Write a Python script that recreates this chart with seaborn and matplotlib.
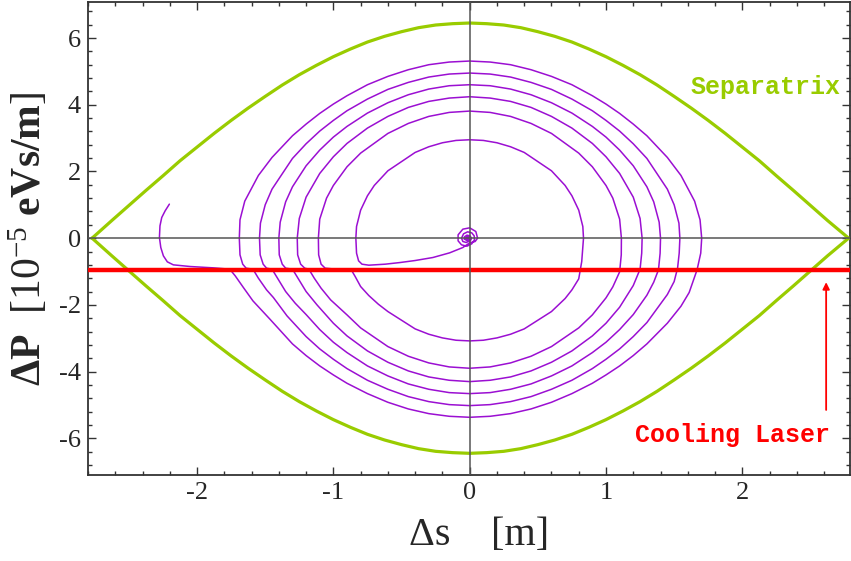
import matplotlib
matplotlib.use("Agg")
import matplotlib.pyplot as plt
import numpy as np
import pandas as pd
import seaborn as sns
from matplotlib.ticker import MultipleLocator, FuncFormatter

# ---- separatrix (upper branch; lower branch is its mirror) ----
sep_s = [-2.77, -2.625, -2.5, -2.375, -2.25, -2.125, -2.0, -1.875, -1.75, -1.625, -1.5, -1.375,
         -1.25, -1.125, -1.0, -0.875, -0.75, -0.625, -0.5, -0.375, -0.25, -0.125, 0.0,
         0.125, 0.25, 0.375, 0.5, 0.625, 0.75, 0.875, 1.0, 1.125, 1.25, 1.375,
         1.5, 1.625, 1.75, 1.875, 2.0, 2.125, 2.25, 2.375, 2.5, 2.625, 2.78]
sep_p = [0.0, 0.53, 0.98, 1.43, 1.87, 2.32, 2.73, 3.14, 3.53, 3.90, 4.25, 4.59,
         4.90, 5.18, 5.44, 5.67, 5.88, 6.05, 6.19, 6.31, 6.39, 6.43, 6.45,
         6.43, 6.39, 6.31, 6.19, 6.05, 5.88, 5.67, 5.44, 5.18, 4.90, 4.59,
         4.25, 3.90, 3.53, 3.14, 2.73, 2.32, 1.87, 1.43, 0.98, 0.53, 0.0]

# ---- cooled particle trajectory, one revolution per list ----
start_s = [-2.203, -2.234, -2.259, -2.272, -2.276, -2.266, -2.247, -2.218, -2.174, -2.05, -1.88, -1.76]
start_p = [1.02, 0.82, 0.62, 0.37, 0.02, -0.28, -0.53, -0.71, -0.80, -0.85, -0.89, -0.93]

rev1_s = [-1.72, -1.66, -1.59, -1.465, -1.30, -1.20, -1.10, -1.00, -0.90, -0.75, -0.60, -0.45, -0.30, -0.15, 0.0,
          0.15, 0.30, 0.45, 0.60, 0.75, 0.90, 1.00, 1.10, 1.20, 1.30, 1.45, 1.55, 1.61, 1.668, 1.695,
          1.702, 1.69, 1.65, 1.55, 1.45, 1.30, 1.20, 1.10, 1.00, 0.90, 0.75, 0.60, 0.45, 0.30, 0.15, 0.0,
          -0.15, -0.30, -0.45, -0.60, -0.75, -0.90, -1.00, -1.10, -1.20, -1.30, -1.45, -1.55, -1.65, -1.685, -1.69,
          -1.685, -1.665, -1.64, -1.59]
rev1_p = [-1.13, -1.48, -1.88, -2.43, -3.17, -3.52, -3.83, -4.10, -4.35, -4.66, -4.92, -5.12, -5.26, -5.34, -5.37,
          -5.34, -5.26, -5.12, -4.92, -4.66, -4.35, -4.10, -3.83, -3.52, -3.17, -2.55, -2.04, -1.63, -0.95, -0.45,
          0.0, 0.55, 1.11, 1.88, 2.42, 3.07, 3.42, 3.74, 4.02, 4.27, 4.60, 4.85, 5.05, 5.20, 5.28, 5.31,
          5.28, 5.20, 5.05, 4.85, 4.60, 4.27, 4.02, 3.74, 3.42, 3.07, 2.42, 1.88, 1.11, 0.55, 0.0,
          -0.50, -0.78, -0.90, -0.93]

rev2_s = [-1.55, -1.49, -1.44, -1.34, -1.20, -1.10, -1.00, -0.90, -0.75, -0.60, -0.45, -0.30, -0.15, 0.0,
          0.15, 0.30, 0.45, 0.60, 0.75, 0.90, 1.00, 1.10, 1.20, 1.30, 1.45, 1.50, 1.525, 1.537,
          1.542, 1.535, 1.50, 1.45, 1.30, 1.20, 1.10, 1.00, 0.90, 0.75, 0.60, 0.45, 0.30, 0.15, 0.0,
          -0.15, -0.30, -0.45, -0.60, -0.75, -0.90, -1.00, -1.10, -1.20, -1.30, -1.45, -1.50, -1.535, -1.542,
          -1.537, -1.515, -1.49, -1.45]
rev2_p = [-1.20, -1.55, -1.78, -2.33, -2.95, -3.32, -3.63, -3.91, -4.26, -4.53, -4.75, -4.90, -4.99, -5.02,
          -4.99, -4.90, -4.75, -4.53, -4.26, -3.91, -3.63, -3.32, -2.95, -2.53, -1.69, -1.30, -0.90, -0.45,
          0.0, 0.45, 1.00, 1.47, 2.39, 2.83, 3.21, 3.53, 3.82, 4.17, 4.46, 4.67, 4.83, 4.92, 4.95,
          4.92, 4.83, 4.67, 4.46, 4.17, 3.82, 3.53, 3.21, 2.83, 2.39, 1.47, 1.00, 0.45, 0.0,
          -0.50, -0.78, -0.90, -0.93]

rev3_s = [-1.41, -1.35, -1.28, -1.20, -1.10, -1.00, -0.90, -0.75, -0.60, -0.45, -0.30, -0.15, 0.0,
          0.15, 0.30, 0.45, 0.60, 0.75, 0.90, 1.00, 1.10, 1.20, 1.30, 1.35, 1.385, 1.397,
          1.40, 1.39, 1.35, 1.30, 1.20, 1.10, 1.00, 0.90, 0.75, 0.60, 0.45, 0.30, 0.15, 0.0,
          -0.15, -0.30, -0.45, -0.60, -0.75, -0.90, -1.00, -1.10, -1.20, -1.30, -1.35, -1.39, -1.40,
          -1.397, -1.375, -1.35, -1.30]
rev3_p = [-1.20, -1.60, -1.95, -2.29, -2.74, -3.12, -3.43, -3.83, -4.13, -4.37, -4.53, -4.63, -4.66,
          -4.63, -4.53, -4.37, -4.13, -3.83, -3.43, -3.12, -2.74, -2.29, -1.71, -1.32, -0.95, -0.45,
          0.0, 0.48, 1.09, 1.54, 2.17, 2.64, 3.03, 3.35, 3.75, 4.06, 4.30, 4.47, 4.57, 4.60,
          4.57, 4.47, 4.30, 4.06, 3.75, 3.35, 3.03, 2.64, 2.17, 1.54, 1.09, 0.48, 0.0,
          -0.50, -0.78, -0.90, -0.93]

rev4_s = [-1.26, -1.20, -1.12, -1.00, -0.90, -0.75, -0.60, -0.45, -0.30, -0.15, 0.0,
          0.15, 0.30, 0.45, 0.60, 0.75, 0.90, 1.00, 1.10, 1.20, 1.25, 1.262,
          1.265, 1.25, 1.20, 1.10, 1.00, 0.90, 0.75, 0.60, 0.45, 0.30, 0.15, 0.0,
          -0.15, -0.30, -0.45, -0.60, -0.75, -0.90, -1.00, -1.10, -1.20, -1.25, -1.265,
          -1.262, -1.24, -1.21, -1.18]
rev4_p = [-1.20, -1.60, -2.00, -2.55, -2.93, -3.38, -3.72, -3.98, -4.16, -4.26, -4.30,
          -4.26, -4.16, -3.98, -3.72, -3.38, -2.93, -2.55, -2.07, -1.42, -0.93, -0.45,
          0.0, 0.59, 1.23, 1.94, 2.44, 2.84, 3.30, 3.65, 3.92, 4.10, 4.20, 4.24,
          4.20, 4.10, 3.92, 3.65, 3.30, 2.84, 2.44, 1.94, 1.23, 0.59, 0.0,
          -0.50, -0.78, -0.90, -0.93]

rev5_s = [-1.14, -1.09, -1.02, -0.90, -0.80, -0.60, -0.45, -0.30, -0.15, 0.0,
          0.15, 0.30, 0.45, 0.60, 0.80, 0.90, 1.00, 1.05, 1.10, 1.112,
          1.113, 1.10, 1.05, 1.00, 0.90, 0.80, 0.60, 0.45, 0.30, 0.15, 0.0,
          -0.15, -0.30, -0.45, -0.60, -0.80, -0.90, -1.00, -1.05, -1.10, -1.11,
          -1.108, -1.09, -1.06, -0.98, -0.87]
rev5_p = [-1.20, -1.50, -1.85, -2.30, -2.69, -3.25, -3.54, -3.74, -3.86, -3.90,
          -3.86, -3.74, -3.54, -3.25, -2.69, -2.30, -1.79, -1.46, -1.01, -0.50,
          0.0, 0.57, 1.20, 1.58, 2.14, 2.55, 3.14, 3.44, 3.65, 3.77, 3.81,
          3.77, 3.65, 3.44, 3.14, 2.55, 2.14, 1.58, 1.20, 0.57, 0.0,
          -0.50, -0.78, -0.90, -0.93, -0.94]

rev6_s = [-0.84, -0.80, -0.74, -0.67, -0.60, -0.40, -0.30, -0.20, -0.10, 0.0, 0.10, 0.20, 0.30, 0.40,
          0.60, 0.70, 0.75, 0.80, 0.822,
          0.835, 0.83, 0.80, 0.75, 0.70, 0.60, 0.40, 0.30, 0.20, 0.10, 0.0, -0.10, -0.20, -0.30, -0.40,
          -0.60, -0.70, -0.75, -0.80, -0.83, -0.835]
rev6_p = [-1.15, -1.45, -1.72, -1.98, -2.20, -2.72, -2.88, -2.99, -3.06, -3.08, -3.06, -2.99, -2.88, -2.72,
          -2.20, -1.81, -1.55, -1.22, -0.70,
          0.0, 0.35, 0.84, 1.27, 1.58, 2.02, 2.57, 2.74, 2.86, 2.93, 2.95, 2.93, 2.86, 2.74, 2.57,
          2.02, 1.58, 1.27, 0.84, 0.35, 0.0]

final_s = [-0.83, -0.815, -0.79, -0.74, -0.62, -0.51, -0.40, -0.27, -0.147, -0.05, 0.0,
           0.04, 0.058, 0.045, 0.0, -0.05, -0.085, -0.085, -0.06, -0.02, 0.015, 0.035, 0.033, 0.015,
           -0.015, -0.045, -0.06, -0.05, -0.025, 0.0, 0.01, 0.0, -0.02, -0.038, -0.04, -0.025, -0.015]
final_p = [-0.45, -0.68, -0.78, -0.81, -0.78, -0.73, -0.67, -0.58, -0.44, -0.28, -0.14,
           -0.10, 0.0, 0.20, 0.31, 0.27, 0.10, -0.08, -0.20, -0.24, -0.17, -0.05, 0.07, 0.16,
           0.19, 0.13, 0.0, -0.10, -0.13, -0.08, 0.0, 0.07, 0.09, 0.04, -0.03, -0.05, 0.0]

laser_p = -0.95
x_ticks = [-2, -1, 0, 1, 2]
y_ticks = [-6, -4, -2, 0, 2, 4, 6]

PURPLE = "#9b0fd2"
GREEN = "#99cc00"
RED = "#ff0000"
AXIS_GREY = "#555555"

sns.set_style("ticks")
plt.rcParams["font.family"] = ["Liberation Serif", "DejaVu Serif"]
plt.rcParams["mathtext.fontset"] = "custom"
plt.rcParams["mathtext.rm"] = "Liberation Serif"
plt.rcParams["mathtext.it"] = "Liberation Serif:italic"
plt.rcParams["mathtext.bf"] = "Liberation Serif:bold"
plt.rcParams["axes.unicode_minus"] = False

fig = plt.figure(figsize=(8.51, 5.61), dpi=100)
ax = fig.add_axes([88 / 851, 1 - 475 / 561, (850 - 88) / 851, (475 - 2) / 561])

traj = pd.DataFrame({
    "s": start_s + rev1_s + rev2_s + rev3_s + rev4_s + rev5_s + rev6_s + final_s,
    "p": start_p + rev1_p + rev2_p + rev3_p + rev4_p + rev5_p + rev6_p + final_p,
})
sep = pd.DataFrame({"s": sep_s, "up": sep_p, "low": [-v for v in sep_p]})

sns.lineplot(data=sep, x="s", y="up", sort=False, estimator=None, color=GREEN, lw=2.3, ax=ax, zorder=3)
sns.lineplot(data=sep, x="s", y="low", sort=False, estimator=None, color=GREEN, lw=2.3, ax=ax, zorder=3)
sns.lineplot(data=traj, x="s", y="p", sort=False, estimator=None, color=PURPLE, lw=1.1, ax=ax, zorder=4)
ax.plot([traj["s"].iloc[-1]], [traj["p"].iloc[-1]], "o", color=PURPLE, ms=4, zorder=4)

ax.axhline(laser_p, color=RED, lw=3.2, zorder=5)
ax.axhline(0, color=AXIS_GREY, lw=1.1, zorder=6)
ax.axvline(0, color=AXIS_GREY, lw=1.1, zorder=6)

ax.annotate("", xy=(2.615, -1.32), xytext=(2.615, -5.15),
            arrowprops=dict(arrowstyle="-|>", color=RED, lw=1.3, mutation_scale=10, shrinkA=0, shrinkB=0),
            zorder=7)
ax.text(1.93, -5.89, "Cooling Laser", color=RED, family="Liberation Mono", weight="bold",
        fontsize=18, ha="center", va="center")
ax.text(2.17, 4.53, "Separatrix", color=GREEN, family="Liberation Mono", weight="bold",
        fontsize=18, ha="center", va="center")

ax.set_xlim(-2.8, 2.79)
ax.set_ylim(-7.1, 7.08)
ax.set_xticks(x_ticks)
ax.set_yticks(y_ticks)
ax.xaxis.set_minor_locator(MultipleLocator(0.2))
ax.yaxis.set_minor_locator(MultipleLocator(0.4))
fmt = FuncFormatter(lambda v, _: f"{v:g}")
ax.xaxis.set_major_formatter(fmt)
ax.yaxis.set_major_formatter(fmt)
ax.tick_params(which="both", direction="in", top=True, right=True, color="#333333", width=1.0)
ax.tick_params(which="major", length=6, labelsize=19, pad=5)
ax.tick_params(which="minor", length=3)
for sp in ax.spines.values():
    sp.set_color("#333333")
    sp.set_linewidth(1.3)

ax.set_xlabel("Δs    [m]", fontsize=29)
ax.set_ylabel(r"$\mathbf{\Delta P}$  $[10^{-5}$ $\mathbf{eVs/m}]$", fontsize=30)
ax.xaxis.set_label_coords(0.513, -0.088)
ax.yaxis.set_label_coords(-0.05, 0.5)

fig.savefig("out.png", dpi=100)
